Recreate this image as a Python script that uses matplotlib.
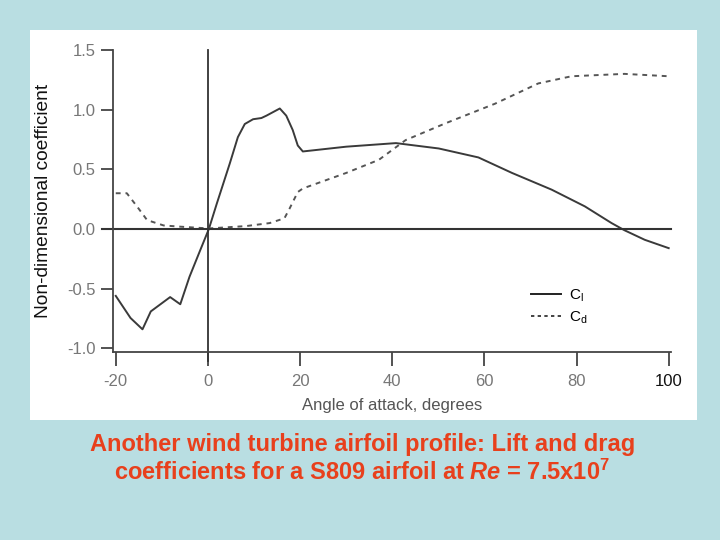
import matplotlib
matplotlib.use("Agg")
import matplotlib.pyplot as plt
from matplotlib.patches import Rectangle
from matplotlib.lines import Line2D

plt.rcParams["font.family"] = ["Liberation Sans", "DejaVu Sans"]
plt.rcParams["mathtext.fontset"] = "custom"
plt.rcParams["mathtext.rm"] = "Liberation Sans"
plt.rcParams["mathtext.it"] = "Liberation Sans:italic:bold"

# lift coefficient
cl_alpha = [-20, -16.8, -14.2, -12.4, -8.2, -6.0, -4.0, -1.7, 0.2, 1.9, 4.75, 6.5, 8.0,
            9.8, 11.6, 12.7, 15.6, 17.0, 18.4, 19.5, 20.6, 30.0, 40.8, 50.1, 58.7,
            66.0, 74.6, 81.8, 87.6, 90.4, 94.8, 100.0]
cl = [-0.56, -0.745, -0.84, -0.69, -0.57, -0.63, -0.40, -0.18, 0.0, 0.21, 0.55, 0.77, 0.88,
      0.92, 0.93, 0.95, 1.01, 0.95, 0.83, 0.70, 0.65, 0.69, 0.72, 0.675, 0.60,
      0.47, 0.33, 0.19, 0.05, -0.01, -0.09, -0.16]

# drag coefficient
cd_alpha = [-20, -17.6, -15.4, -13.2, -9.6, -6.0, 0.2, 8.3, 13.4, 16.6, 17.7, 19.5, 20.6,
            30.0, 37.1, 42.9, 51.5, 62.3, 71.7, 78.9, 90.4, 100.0]
cd = [0.30, 0.30, 0.19, 0.075, 0.03, 0.02, 0.005, 0.025, 0.05, 0.09, 0.17, 0.31, 0.34,
      0.47, 0.58, 0.745, 0.885, 1.05, 1.22, 1.28, 1.30, 1.28]

xticks = [-20, 0, 20, 40, 60, 80, 100]
yticks = [-1.0, -0.5, 0.0, 0.5, 1.0, 1.5]

fig = plt.figure(figsize=(7.2, 5.4), dpi=100)
fig.patch.set_facecolor("#b9dee2")
fig.add_artist(Rectangle((30 / 720, 1 - 420 / 540), 667 / 720, 390 / 540,
                         transform=fig.transFigure, facecolor="white", edgecolor="none",
                         zorder=-5))

ax = fig.add_axes([113 / 720, 1 - 352 / 540, 558 / 720, 302 / 540])
ax.set_facecolor("none")
ax.plot(cl_alpha, cl, color="#3a3a3a", lw=1.4)
ax.plot(cd_alpha, cd, color="#555555", lw=1.4, ls=(0, (2.5, 2.5)))

ax.axhline(0, xmin=-0.02, xmax=1, color="#333333", lw=1.5, clip_on=False)
ax.axvline(0, ymin=-0.03, ymax=1, color="#333333", lw=1.3, clip_on=False)

ax.set_xlim(-20.6, 100.5)
ax.set_ylim(-1.03, 1.5)
for s in ["top", "right"]:
    ax.spines[s].set_visible(False)
for s in ["left", "bottom"]:
    ax.spines[s].set_color("#444444")
    ax.spines[s].set_linewidth(1.3)

ax.set_xticks(xticks)
ax.set_xticklabels([str(t) for t in xticks])
ax.set_yticks(yticks)
ax.set_yticklabels([f"{t:.1f}" for t in yticks])
ax.tick_params(axis="both", colors="#444444", labelcolor="#777777", labelsize=12,
               length=9, width=1.3)
ax.tick_params(axis="x", length=10, pad=6)
ax.get_xticklabels()[-1].set_color("#111111")

ax.set_ylabel("Non-dimensional coefficient", fontsize=13.8, color="#111111", labelpad=11)
ax.set_xlabel("Angle of attack, degrees", fontsize=12, color="#555555", labelpad=6)

handles = [Line2D([], [], color="#222222", lw=1.4),
           Line2D([], [], color="#222222", lw=1.2, ls=(0, (2, 2)))]
ax.legend(handles, ["$\\mathregular{C_l}$", "$\\mathregular{C_d}$"], loc="upper left",
          bbox_to_anchor=(0.735, 0.24), frameon=False, fontsize=11,
          handlelength=2.0, handletextpad=0.5, labelspacing=0.4, borderpad=0)

fig.text(0.503, 1 - 444 / 540, "Another wind turbine airfoil profile: Lift and drag",
         ha="center", va="center", fontsize=17, fontweight="bold", color="#e8401c")
fig.text(0.503, 1 - 472 / 540,
         "coefficients for a S809 airfoil at $\\mathit{Re}$ = 7.5x10$^\\mathregular{7}$",
         ha="center", va="center", fontsize=17, fontweight="bold", color="#e8401c")

fig.savefig("out.png", dpi=100, facecolor=fig.get_facecolor())
